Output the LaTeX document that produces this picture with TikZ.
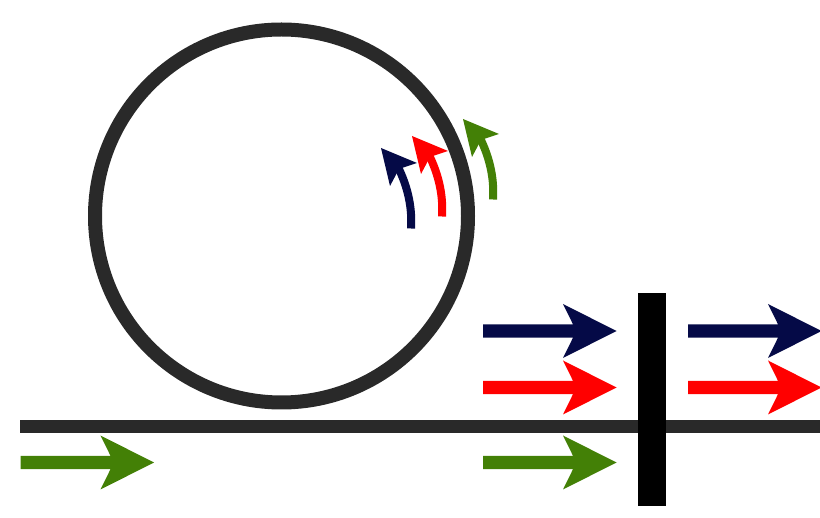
\documentclass[tikz,border=0pt]{standalone}
\definecolor{wire}{HTML}{292929}
\definecolor{navyc}{HTML}{050A47}
\definecolor{redc}{HTML}{FF0000}
\definecolor{greenc}{HTML}{438006}
\newcommand{\straightarrow}[3]{%
  \begin{scope}[shift={(#1,#2)}]
    \fill[#3] (0,-6.7) -- (90,-6.7) -- (80,-27) -- (133.5,0) -- (80,27) -- (90,6.7) -- (0,6.7) -- cycle;
  \end{scope}}
\newcommand{\curvedarrow}[3]{%
  \begin{scope}[shift={(#1,#2)}]
    \draw[#3,line width=8pt] (411,228.5) .. controls (412.5,206) and (407,185) .. (397.5,166);
    \fill[#3] (381,148) -- (417,163) -- (399,169) -- (390,186) -- cycle;
  \end{scope}}
\begin{document}
\begin{tikzpicture}[x=1pt,y=-1pt]
\useasboundingbox (0,0) rectangle (820,518);
\draw[wire,line width=14pt] (281.5,216) circle (186.5);
\fill[wire] (20,420) rectangle (820,433);
\fill[black] (638,293) rectangle (666,506);
\straightarrow{20.5}{462.5}{greenc}
\straightarrow{483}{331}{navyc}
\straightarrow{483}{387.5}{redc}
\straightarrow{483}{462.5}{greenc}
\straightarrow{688}{331}{navyc}
\straightarrow{688}{387.5}{redc}
\curvedarrow{0}{0}{navyc}
\curvedarrow{31}{-12}{redc}
\curvedarrow{82}{-29}{greenc}
\end{tikzpicture}
\end{document}
